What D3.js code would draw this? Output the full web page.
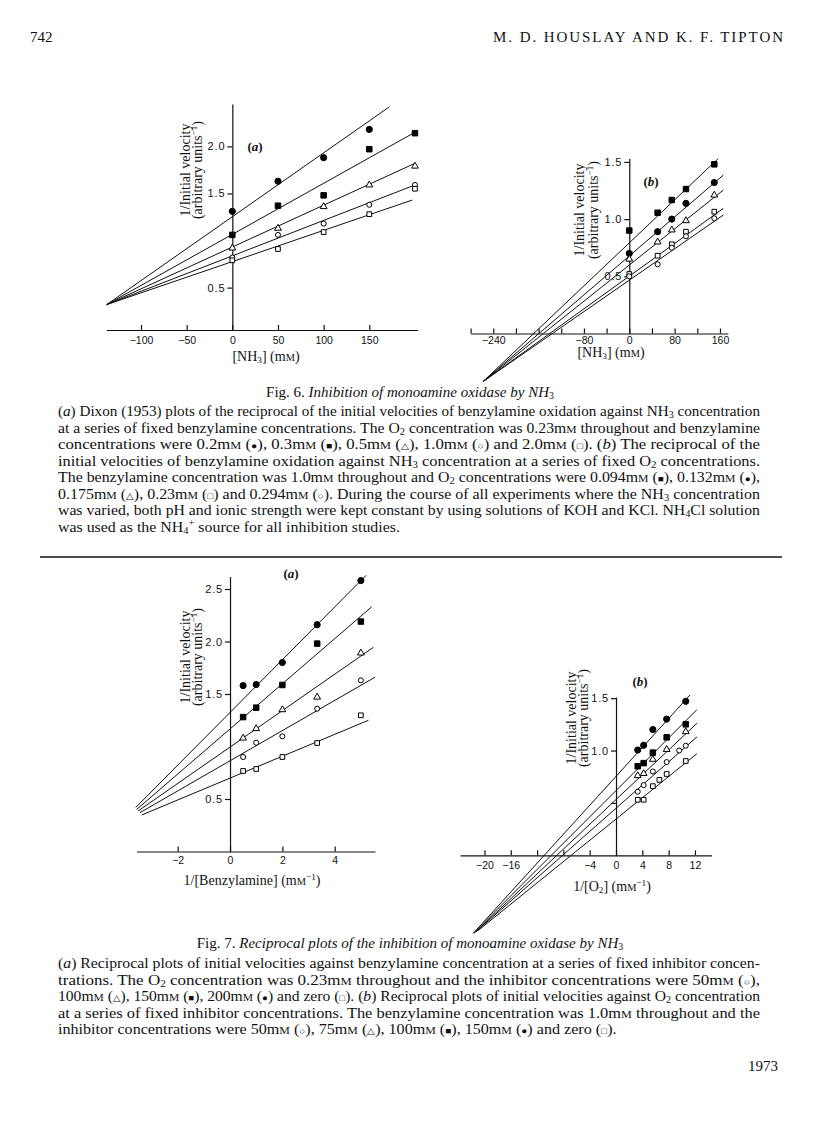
<!DOCTYPE html>
<html><head><meta charset="utf-8">
<script src="https://cdn.jsdelivr.net/npm/d3@7"></script>
<style>body{margin:0;background:#fff}</style>
</head><body>
<svg id="c" width="816" height="1136"></svg>
<script>
// ---------------- DATA ----------------
// Fig 6a: 1/v vs [NH3] at fixed benzylamine
const f6aNH3 = [0, 50, 100, 150, 200];
const f6aBenz02 = [1.31, 1.63, 1.88, 2.18];          // filled circle (x 0..150)
const f6aBenz03 = [1.06, 1.37, 1.48, 1.97, 2.14];    // filled square
const f6aBenz05 = [0.92, 1.13, 1.36, 1.59, 1.79];    // open triangle
const f6aBenz10 = [0.82, 1.06, 1.18, 1.38, 1.59];    // open circle
const f6aBenz20 = [0.79, 0.91, 1.09, 1.28, 1.55];    // open square
const f6aFitStart = [-137.5, 0.32];
const f6aFitEnds = [[172, 2.42], [200, 2.15], [200, 1.82], [200, 1.59], [197, 1.43]];
const f6aXTicks = [-100, -50, 0, 50, 100, 150];
const f6aXLabels = ["\u2212100", "\u221250", "0", "50", "100", "150"];
const f6aYTicks = [0.5, 1.5, 2.0];
const f6aYLabels = ["0.5", "1.5", "2.0"];

// Fig 6b: 1/v vs [NH3] at fixed O2
const f6bNH3 = [0, 50, 75, 100, 150];
const f6bO2_094 = [0.90, 1.056, 1.167, 1.263, 1.479]; // filled square
const f6bO2_132 = [0.70, 0.89, 1.00, 1.138, 1.32];    // filled circle
const f6bO2_175 = [0.65, 0.80, 0.905, 0.986, 1.21];   // open triangle
const f6bO2_230 = [0.52, 0.68, 0.78, 0.89, 1.065];    // open square
const f6bO2_294 = [0.50, 0.605, 0.75, 0.85, 1.007];   // open circle
const f6bFitStart = [-258, -0.42];
const f6bFitEnds = [[157, 1.53], [166, 1.385], [166, 1.254], [166, 1.094], [166, 1.036]];
const f6bXTicks = [-280, -240, -200, -160, -120, -80, -40, 0, 40, 80, 120, 160];
const f6bXLabels = ["", "\u2212240", "", "", "", "\u221280", "", "0", "", "80", "", "160"];
const f6bYTicks = [0.5, 1.0, 1.5];
const f6bYLabels = ["0.5", "1.0", "1.5"];

// Fig 7a: 1/v vs 1/[benzylamine] at fixed NH3
const f7aInvBenz = [0.5, 1, 2, 3.33, 5];
const f7aNH3_200 = [1.58, 1.59, 1.80, 2.16, 2.58];   // filled circle
const f7aNH3_150 = [1.28, 1.37, 1.586, 1.98, 2.19];  // filled square
const f7aNH3_100 = [1.08, 1.17, 1.35, 1.47, 1.89];   // open triangle
const f7aNH3_50 = [0.90, 1.036, 1.097, 1.36, 1.63];  // open circle
const f7aNH3_0 = [0.767, 0.786, 0.90, 1.033, 1.297]; // open square
const f7aFits = [
  [[-3.60, 0.42], [5.2, 2.63]],
  [[-3.57, 0.40], [5.41, 2.33]],
  [[-3.51, 0.386], [5.48, 1.945]],
  [[-3.44, 0.37], [5.54, 1.66]],
  [[-3.37, 0.348], [5.29, 1.25]]
];
const f7aXTicks = [-2, 0, 2, 4];
const f7aXLabels = ["\u22122", "0", "2", "4"];
const f7aYTicks = [0.5, 1.5, 2.0, 2.5];
const f7aYLabels = ["0.5", "1.5", "2.0", "2.5"];

// Fig 7b: 1/v vs 1/[O2] at fixed NH3
const f7bInvO2 = [3.3, 4.2, 5.6, 7.7, 10.6];
const f7bInvO2Circ = [3.3, 4.2, 5.6, 7.7, 9.6, 10.6];
const f7bInvO2Sq = [3.3, 4.2, 5.6, 6.6, 7.7, 10.6];
const f7bNH3_150 = [1.005, 1.05, 1.20, 1.30, 1.47];      // filled circle
const f7bNH3_100 = [0.85, 0.88, 0.98, 1.126, 1.25];      // filled square
const f7bNH3_75 = [0.76, 0.78, 0.916, 1.01, 1.18];       // open triangle
const f7bNH3_50 = [0.607, 0.67, 0.80, 0.89, 1.00, 1.046];// open circle
const f7bNH3_0 = [0.53, 0.53, 0.66, 0.72, 0.776, 0.90];  // open square
const f7bFits = [
  [[-21.7, -0.745], [11.25, 1.53]],
  [[-21.7, -0.745], [12.3, 1.39]],
  [[-21.5, -0.74], [12.3, 1.26]],
  [[-21.3, -0.73], [12.3, 1.13]],
  [[-21.0, -0.72], [12.3, 0.97]]
];
const f7bXTicks = [-20, -16, -12, -8, -4, 0, 4, 8, 12];
const f7bXLabels = ["\u221220", "\u221216", "", "", "\u22124", "0", "4", "8", "12"];
const f7bYTicks = [0.5, 1.0, 1.5];
const f7bYLabels = ["", "1.0", "1.5"];

// Text
const headerLeft = "742";
const headerRight = "M. D. HOUSLAY AND K. F. TIPTON";
const fig6Caption = "Fig. 6. *Inhibition of monoamine oxidase by NH*_3";
const fig6Lines = [
  "(*a*) Dixon (1953) plots of the reciprocal of the initial velocities of benzylamine oxidation against NH_3 concentration",
  "at a series of fixed benzylamine concentrations. The O_2 concentration was 0.23mM throughout and benzylamine",
  "concentrations were 0.2mM (●), 0.3mM (■), 0.5mM (△), 1.0mM (○) and 2.0mM (□). (*b*) The reciprocal of the",
  "initial velocities of benzylamine oxidation against NH_3 concentration at a series of fixed O_2 concentrations.",
  "The benzylamine concentration was 1.0mM throughout and O_2 concentrations were 0.094mM (■), 0.132mM (●),",
  "0.175mM (△), 0.23mM (□) and 0.294mM (○). During the course of all experiments where the NH_3 concentration",
  "was varied, both pH and ionic strength were kept constant by using solutions of KOH and KCl. NH_4Cl solution",
  "was used as the NH_4^+ source for all inhibition studies."
];
const fig7Caption = "Fig. 7. *Reciprocal plots of the inhibition of monoamine oxidase by NH*_3";
const fig7Lines = [
  "(*a*) Reciprocal plots of initial velocities against benzylamine concentration at a series of fixed inhibitor concen-",
  "trations. The O_2 concentration was 0.23mM throughout and the inhibitor concentrations were 50mM (○),",
  "100mM (△), 150mM (■), 200mM (●) and zero (□). (*b*) Reciprocal plots of initial velocities against O_2 concentration",
  "at a series of fixed inhibitor concentrations. The benzylamine concentration was 1.0mM throughout and the",
  "inhibitor concentrations were 50mM (○), 75mM (△), 100mM (■), 150mM (●) and zero (□)."
];
const pageNumber = "1973";

// ---------------- DRAWING ----------------
const SERIF = "'Liberation Serif','Times New Roman',serif";
const SANS = "'Liberation Sans',Arial,sans-serif";
const svg = d3.select("#c");
svg.append("rect").attr("width", 816).attr("height", 1136).attr("fill", "#fff");

function rich(textSel, str, size) {
  const re = /(\*[^*]+\*|_[0-9]|\^[\-\u2212+0-9]+|mM|[●■△○□])/g;
  const parts = str.split(re).filter(s => s);
  let off = 0;
  function span(txt, target, fs, italic) {
    const t = textSel.append("tspan").text(txt);
    if (target !== off) { t.attr("dy", target - off); off = target; }
    if (fs) t.attr("font-size", fs);
    if (italic) t.attr("font-style", "italic");
  }
  parts.forEach(tok => {
    if (tok.length > 2 && tok[0] === "*" && tok[tok.length - 1] === "*") span(tok.slice(1, -1), 0, null, true);
    else if (/^_[0-9]$/.test(tok)) span(tok.slice(1), size * 0.16, size * 0.66, false);
    else if (tok[0] === "^") span(tok.slice(1), -size * 0.36, size * 0.66, false);
    else if (tok === "mM") { span("m", 0, null, false); span("M", 0, size * 0.74, false); }
    else if ("●■△○□".includes(tok)) span(tok, 0, size * 0.62, false);
    else span(tok, 0, null, false);
  });
}

function textLine(parent, str, x, y, size, opts = {}) {
  const t = parent.append("text").attr("x", x).attr("y", y)
    .attr("font-family", SERIF).attr("font-size", size).attr("fill", "#111")
    .attr("text-anchor", opts.anchor || "start");
  if (opts.len) t.attr("textLength", opts.len).attr("lengthAdjust", opts.adjust || "spacing");
  rich(t, str, size);
  return t;
}

// header
textLine(svg, headerLeft, 30, 42, 15);
textLine(svg, headerRight, 783, 42, 15, {anchor: "end", len: 290});

// paragraphs: justified lines stretched to the measure
const PX = 58, PW = 702, LH = 16.5, FS = 14.4;
function paragraph(lines, y0) {
  const g = svg.append("g");
  const widths = lines.map(l => {
    const t = textLine(g, l, 0, -50, FS);
    const w = t.node().getComputedTextLength();
    t.remove();
    return w;
  });
  const r = d3.median(widths.slice(0, -1).map(w => PW / w));
  lines.forEach((l, i) => {
    const last = i === lines.length - 1;
    textLine(g, l, PX, y0 + i * LH, FS,
      {len: last ? widths[i] * r : PW, adjust: "spacingAndGlyphs"});
  });
}

textLine(svg, fig6Caption, 410, 397, 15, {anchor: "middle"});
paragraph(fig6Lines, 416);
svg.append("line").attr("x1", 40).attr("x2", 782).attr("y1", 557).attr("y2", 557)
  .attr("stroke", "#111").attr("stroke-width", 1.4);
textLine(svg, fig7Caption, 410, 948, 15, {anchor: "middle"});
paragraph(fig7Lines, 968);
textLine(svg, pageNumber, 778, 1071, 15, {anchor: "end"});

// panels
const shapeOf = {
  fc: {type: d3.symbolCircle, size: 30, fill: "#000"},
  fs: {type: d3.symbolSquare, size: 30, fill: "#000"},
  tri: {type: d3.symbolTriangle, size: 20, fill: "#fff"},
  oc: {type: d3.symbolCircle, size: 20, fill: "#fff"},
  os: {type: d3.symbolSquare, size: 22, fill: "#fff"}
};

function fitsFrom(start, ends) { return ends.map(e => [start, e]); }

const panels = [
  {
    xDomain: [-138, 203], xRange: [106.3, 417.7], yDomain: [0.05, 2.45], yRange: [330, 104],
    xTicks: f6aXTicks, xLabels: f6aXLabels, yTicks: f6aYTicks, yLabels: f6aYLabels, xLabelGap: 6,
    series: [
      {shape: "fc", x: f6aNH3.slice(0, 4), y: f6aBenz02},
      {shape: "fs", x: f6aNH3, y: f6aBenz03},
      {shape: "tri", x: f6aNH3, y: f6aBenz05},
      {shape: "oc", x: f6aNH3, y: f6aBenz10},
      {shape: "os", x: f6aNH3, y: f6aBenz20}
    ],
    fits: fitsFrom(f6aFitStart, f6aFitEnds),
    title: "(*a*)", titlePos: [255, 151],
    xTitle: "[NH_3] (mM)", xTitlePos: [266, 361],
    yTitle: ["1/Initial velocity", "(arbitrary units^\u22121)"], yTitleX: [190, 202], yTitleY: 170
  },
  {
    xDomain: [-280, 174], xRange: [470.6, 727.9], yDomain: [0, 1.53], yRange: [333.5, 158.5],
    xTicks: f6bXTicks, xLabels: f6bXLabels, yTicks: f6bYTicks, yLabels: f6bYLabels, xLabelGap: 3,
    series: [
      {shape: "fs", x: f6bNH3, y: f6bO2_094},
      {shape: "fc", x: f6bNH3, y: f6bO2_132},
      {shape: "tri", x: f6bNH3, y: f6bO2_175},
      {shape: "os", x: f6bNH3, y: f6bO2_230},
      {shape: "oc", x: f6bNH3, y: f6bO2_294}
    ],
    fits: fitsFrom(f6bFitStart, f6bFitEnds),
    title: "(*b*)", titlePos: [651, 186],
    xTitle: "[NH_3] (mM)", xTitlePos: [611, 357],
    yTitle: ["1/Initial velocity", "(arbitrary units^\u22121)"], yTitleX: [584, 598], yTitleY: 210
  },
  {
    xDomain: [-3.57, 5.54], xRange: [136.6, 375], yDomain: [0, 2.62], yRange: [851.5, 576.4],
    xTicks: f7aXTicks, xLabels: f7aXLabels, yTicks: f7aYTicks, yLabels: f7aYLabels, xLabelGap: 5,
    series: [
      {shape: "fc", x: f7aInvBenz, y: f7aNH3_200},
      {shape: "fs", x: f7aInvBenz, y: f7aNH3_150},
      {shape: "tri", x: f7aInvBenz, y: f7aNH3_100},
      {shape: "oc", x: f7aInvBenz, y: f7aNH3_50},
      {shape: "os", x: f7aInvBenz, y: f7aNH3_0}
    ],
    fits: f7aFits,
    title: "(*a*)", titlePos: [291, 578],
    xTitle: "1/[Benzylamine] (mM^\u22121)", xTitlePos: [252, 885],
    yTitle: ["1/Initial velocity", "(arbitrary units^\u22121)"], yTitleX: [190, 202], yTitleY: 657
  },
  {
    xDomain: [-23.7, 14.5], xRange: [460.1, 711.4], yDomain: [0, 1.51], yRange: [855.3, 697.1],
    xTicks: f7bXTicks, xLabels: f7bXLabels, yTicks: f7bYTicks, yLabels: f7bYLabels, xLabelGap: 6,
    series: [
      {shape: "fc", x: f7bInvO2, y: f7bNH3_150},
      {shape: "fs", x: f7bInvO2, y: f7bNH3_100},
      {shape: "tri", x: f7bInvO2, y: f7bNH3_75},
      {shape: "oc", x: f7bInvO2Circ, y: f7bNH3_50},
      {shape: "os", x: f7bInvO2Sq, y: f7bNH3_0}
    ],
    fits: f7bFits,
    title: "(*b*)", titlePos: [640, 686],
    xTitle: "1/[O_2] (mM^\u22121)", xTitlePos: [612, 891],
    yTitle: ["1/Initial velocity", "(arbitrary units^\u22121)"], yTitleX: [576, 588], yTitleY: 718
  }
];

function drawPanel(p) {
  const x = d3.scaleLinear().domain(p.xDomain).range(p.xRange);
  const y = d3.scaleLinear().domain(p.yDomain).range(p.yRange);
  const g = svg.append("g");

  const gx = g.append("g").attr("transform", `translate(0,${p.yRange[0]})`)
    .call(d3.axisBottom(x).tickValues(p.xTicks)
      .tickFormat((v, i) => p.xLabels[i]).tickSize(-5).tickSizeOuter(0));
  gx.attr("font-size", 10.5);
  gx.selectAll("text").attr("y", p.xLabelGap).attr("dy", "0.75em");

  const gy = g.append("g").attr("transform", `translate(${x(0)},0)`)
    .call(d3.axisLeft(y).tickValues(p.yTicks)
      .tickFormat((v, i) => p.yLabels[i]).tickSize(5).tickSizeOuter(0));
  gy.attr("font-size", 11).attr("letter-spacing", 0.8);
  gy.selectAll("text").attr("x", -7);

  [gx, gy].forEach(ax => {
    ax.attr("font-family", SANS);
    ax.selectAll("path,line").attr("stroke", "#111").attr("stroke-width", 1.2);
    ax.selectAll("text").attr("fill", "#111");
  });

  g.append("g").selectAll("line").data(p.fits).join("line")
    .attr("x1", d => x(d[0][0])).attr("y1", d => y(d[0][1]))
    .attr("x2", d => x(d[1][0])).attr("y2", d => y(d[1][1]))
    .attr("stroke", "#111").attr("stroke-width", 1);

  p.series.forEach(s => {
    const sh = shapeOf[s.shape];
    const pts = s.y.map((v, i) => [s.x[i], v]);
    g.append("g").selectAll("path").data(pts).join("path")
      .attr("transform", d => `translate(${x(d[0])},${y(d[1])})`)
      .attr("d", d3.symbol().type(sh.type).size(sh.size))
      .attr("fill", sh.fill).attr("stroke", "#000").attr("stroke-width", 1);
  });

  const tt = g.append("text").attr("x", p.titlePos[0]).attr("y", p.titlePos[1])
    .attr("text-anchor", "middle").attr("font-family", SERIF).attr("font-size", 13)
    .attr("font-weight", "bold").attr("fill", "#111");
  rich(tt, p.title, 13);

  const xt = g.append("text").attr("x", p.xTitlePos[0]).attr("y", p.xTitlePos[1])
    .attr("text-anchor", "middle").attr("font-family", SERIF).attr("font-size", 14).attr("fill", "#111");
  rich(xt, p.xTitle, 14);

  p.yTitle.forEach((str, i) => {
    const yt = g.append("text")
      .attr("transform", `translate(${p.yTitleX[i]},${p.yTitleY}) rotate(-90)`)
      .attr("text-anchor", "middle").attr("font-family", SERIF).attr("font-size", 14).attr("fill", "#111");
    rich(yt, str, 14);
  });
}
panels.forEach(drawPanel);
</script>
</body></html>
